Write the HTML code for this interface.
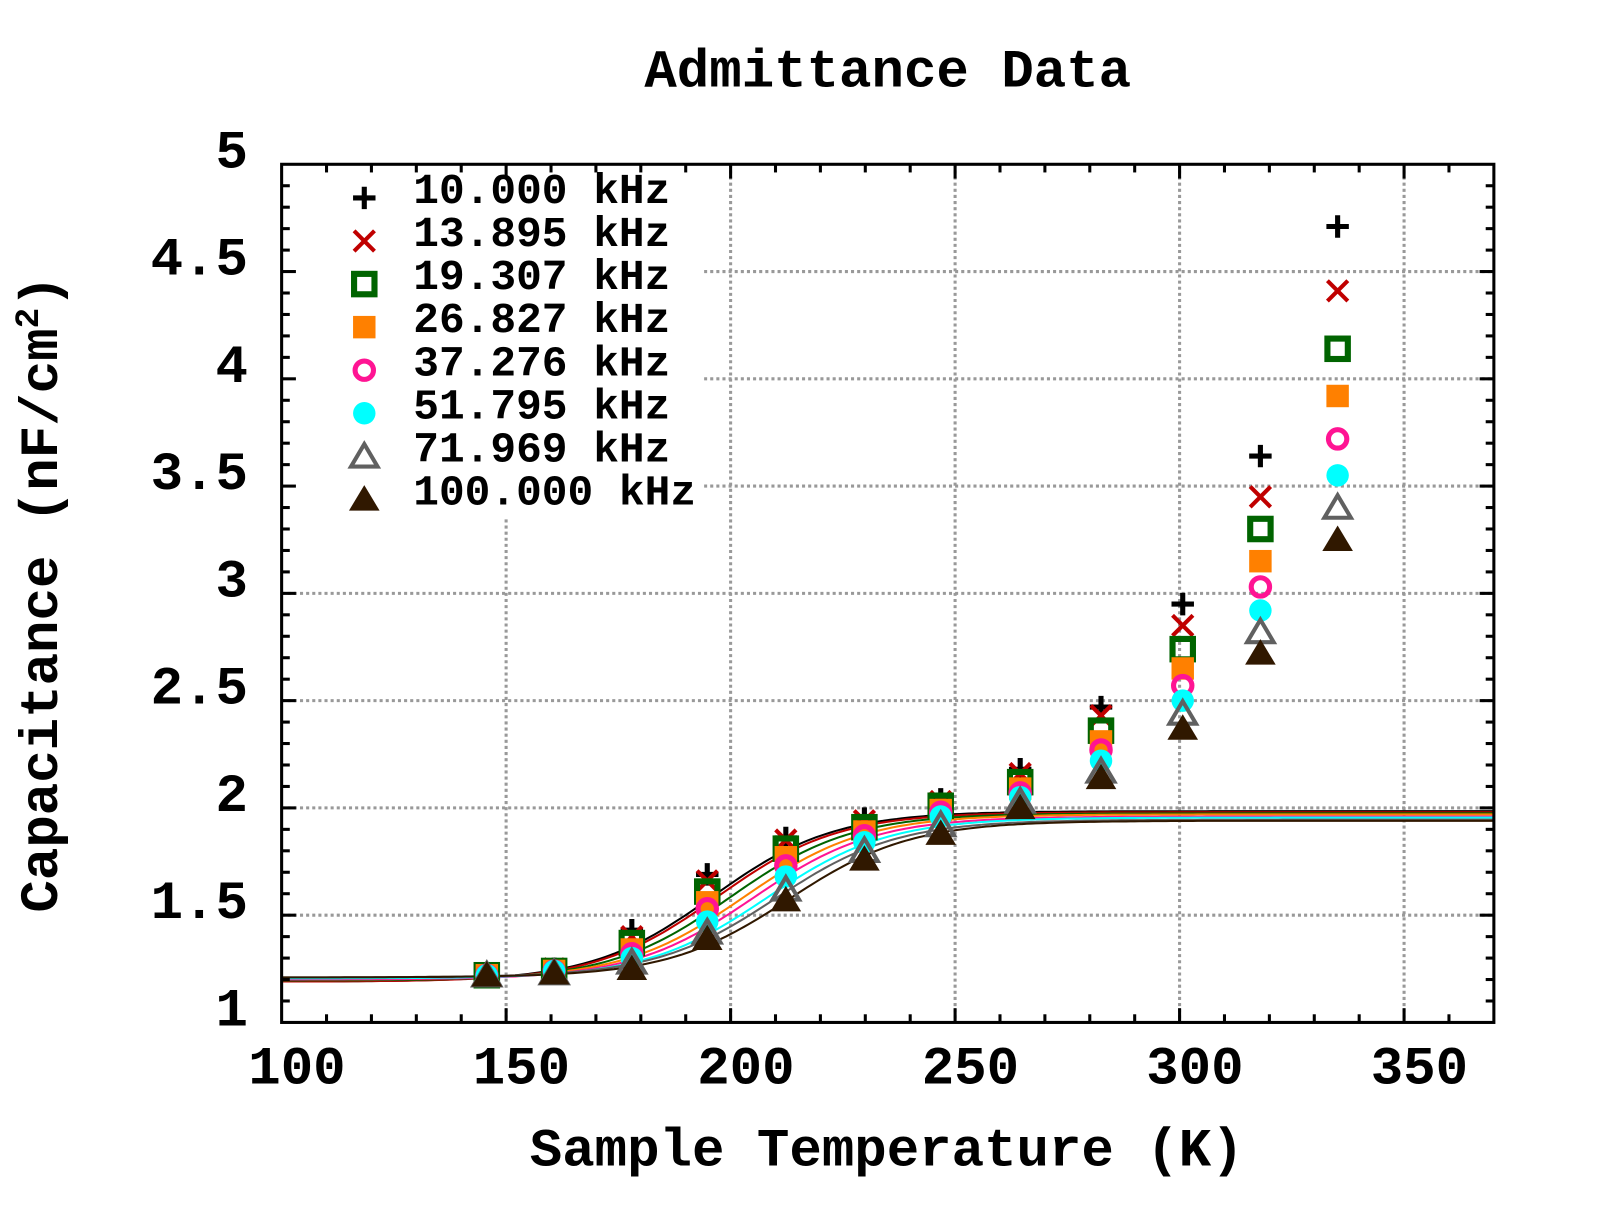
<!DOCTYPE html>
<html><head><meta charset="utf-8"><style>
body{margin:0;background:#fff}
svg text{font-family:"Liberation Mono",monospace;font-weight:bold;fill:#000}
</style></head><body>
<svg id="chart" width="1600" height="1200" xmlns="http://www.w3.org/2000/svg">
<rect width="1600" height="1200" fill="#fff"/>
<g transform="scale(1.0204)">
<text x="870" y="85" font-size="53" text-anchor="middle">Admittance Data</text>
<text x="869" y="1142" font-size="53" text-anchor="middle">Sample Temperature (K)</text>
<text transform="translate(56,582) rotate(-90)" font-size="53" text-anchor="middle">Capacitance (nF/cm<tspan font-size="34" dy="-19">2</tspan><tspan dy="19">)</tspan></text>
<g id="grid"></g><g id="curves"></g><g id="legendbg"></g><g id="marks"></g><g id="axes"></g><g id="legend"></g>
</g>
</svg>
<script>
const freqLabels=["10.000 kHz","13.895 kHz","19.307 kHz","26.827 kHz","37.276 kHz","51.795 kHz","71.969 kHz","100.000 kHz"];
const temps=[145.7,160.7,178,194.8,212.3,229.8,246.8,264.5,282.5,300.7,318,335.2];
const s10k=[1.22,1.25,1.43,1.69,1.86,1.95,2.04,2.18,2.47,2.95,3.64,4.71];
const s13k=[1.22,1.25,1.40,1.66,1.85,1.94,2.03,2.16,2.43,2.85,3.45,4.41];
const s19k=[1.22,1.24,1.37,1.61,1.81,1.91,2.01,2.12,2.36,2.74,3.30,4.14];
const s26k=[1.22,1.24,1.34,1.56,1.77,1.89,1.99,2.09,2.31,2.65,3.15,3.92];
const s37k=[1.22,1.24,1.32,1.53,1.73,1.87,1.98,2.07,2.27,2.57,3.03,3.72];
const s51k=[1.22,1.24,1.30,1.47,1.68,1.84,1.96,2.05,2.22,2.50,2.92,3.55];
const s71k=[1.22,1.23,1.28,1.42,1.62,1.80,1.92,2.03,2.17,2.44,2.82,3.40];
const s100k=[1.22,1.23,1.25,1.39,1.57,1.76,1.88,2.00,2.14,2.37,2.72,3.25];
const fitLow=[1.19,1.19,1.195,1.20,1.20,1.205,1.21,1.21];
const fitHigh=[1.985,1.98,1.975,1.97,1.96,1.955,1.945,1.94];
const fitCenter=[196,197,200,203,205,208,210,213];
const fitWidth=[13.5,13.5,13.5,13.5,13.5,13.5,13.5,13.5];
const xTicks=[100,150,200,250,300,350];
const yTicks=[1,1.5,2,2.5,3,3.5,4,4.5,5];
const yTickLabels=["1","1.5","2","2.5","3","3.5","4","4.5","5"];
const series=[s10k,s13k,s19k,s26k,s37k,s51k,s71k,s100k];
const colors=["#000","#c00000","#006400","#ff8000","#ff1493","#00ffff","#606060","#301800"];
const L=276,R=1464,T=161,B=1002,xmin=100,xmax=370,ymin=1,ymax=5;
const X=v=>L+(v-xmin)/(xmax-xmin)*(R-L);
const Y=v=>B-(v-ymin)/(ymax-ymin)*(B-T);
const NS="http://www.w3.org/2000/svg";
function mk(tag,at,parent){const e=document.createElementNS(NS,tag);for(const k in at)e.setAttribute(k,at[k]);document.getElementById(parent).appendChild(e);return e;}
xTicks.forEach(t=>{if(t>xmin){const g=mk('line',{x1:X(t),x2:X(t),y1:T,y2:B,stroke:'#999','stroke-width':3,'stroke-dasharray':'3,3'},'grid');

}});
yTicks.forEach(t=>{if(t>ymin&&t<ymax){const g=mk('line',{x1:L,x2:R,y1:Y(t),y2:Y(t),stroke:'#999','stroke-width':3,'stroke-dasharray':'3,3'},'grid');

}});
series.forEach((s,i)=>{let d='';for(let t=xmin;t<=xmax;t+=1){const c=fitLow[i]+(fitHigh[i]-fitLow[i])/(1+Math.exp(-(t-fitCenter[i])/fitWidth[i]));d+=(t==xmin?'M':'L')+X(t).toFixed(1)+','+Y(c).toFixed(1);}
const p=mk('path',{d:d,fill:'none',stroke:colors[i],'stroke-width':2},'curves');

});
const lb=mk('rect',{x:L+2,y:T+2,width:412,height:345,fill:'#fff'},'legendbg');


function marker(i,cx,cy,parent){const c=colors[i];let e;
switch(i){
case 0:e=mk('path',{d:`M${cx-11},${cy}H${cx+11}M${cx},${cy-11}V${cy+11}`,stroke:c,'stroke-width':5,fill:'none'},parent);break;
case 1:e=mk('path',{d:`M${cx-10},${cy-10}L${cx+10},${cy+10}M${cx+10},${cy-10}L${cx-10},${cy+10}`,stroke:c,'stroke-width':4,fill:'none'},parent);break;
case 2:e=mk('rect',{x:cx-10,y:cy-10,width:20,height:20,stroke:c,'stroke-width':6,fill:'none'},parent);break;
case 3:e=mk('rect',{x:cx-11,y:cy-11,width:22,height:22,fill:c},parent);break;
case 4:e=mk('circle',{cx:cx,cy:cy,r:9,stroke:c,'stroke-width':5,fill:'none'},parent);break;
case 5:e=mk('circle',{cx:cx,cy:cy,r:11,fill:c},parent);break;
case 6:e=mk('path',{d:`M${cx},${cy-12}L${cx+13},${cy+10}L${cx-13},${cy+10}Z`,stroke:c,'stroke-width':4,fill:'none'},parent);break;
case 7:e=mk('path',{d:`M${cx},${cy-14}L${cx+15},${cy+11}L${cx-15},${cy+11}Z`,fill:c},parent);break;}
return e;}
series.forEach((s,i)=>{s.forEach((v,j)=>{const e=marker(i,X(temps[j]),Y(v),'marks');

});});
const fr=mk('rect',{x:L,y:T,width:R-L,height:B-T,fill:'none',stroke:'#000','stroke-width':3},'axes');


for(let t=110;t<xmax;t+=10){const len=(t%50==0)?14:8;
mk('line',{x1:X(t),x2:X(t),y1:B,y2:B-len,stroke:'#000','stroke-width':3},'axes');
mk('line',{x1:X(t),x2:X(t),y1:T,y2:T+len,stroke:'#000','stroke-width':3},'axes');}
for(let k=1;k<40;k++){const v=1+k*0.1;const len=(k%5==0)?14:8;
mk('line',{x1:L,x2:L+len,y1:Y(v),y2:Y(v),stroke:'#000','stroke-width':3},'axes');
mk('line',{x1:R,x2:R-len,y1:Y(v),y2:Y(v),stroke:'#000','stroke-width':3},'axes');}
xTicks.forEach(t=>{const e=mk('text',{x:X(t)+15,y:1062,'font-size':53,'text-anchor':'middle'},'axes');e.textContent=t;

});
yTicks.forEach((t,k)=>{const e=mk('text',{x:243,y:Y(t)+3,'font-size':53,'text-anchor':'end'},'axes');e.textContent=yTickLabels[k];

});
freqLabels.forEach((f,i)=>{const cy=194+i*42.2;const m=marker(i,357,cy,'legend');


const e=mk('text',{x:405,y:cy+5,'font-size':42},'legend');e.textContent=f;

});
</script>
</body></html>
